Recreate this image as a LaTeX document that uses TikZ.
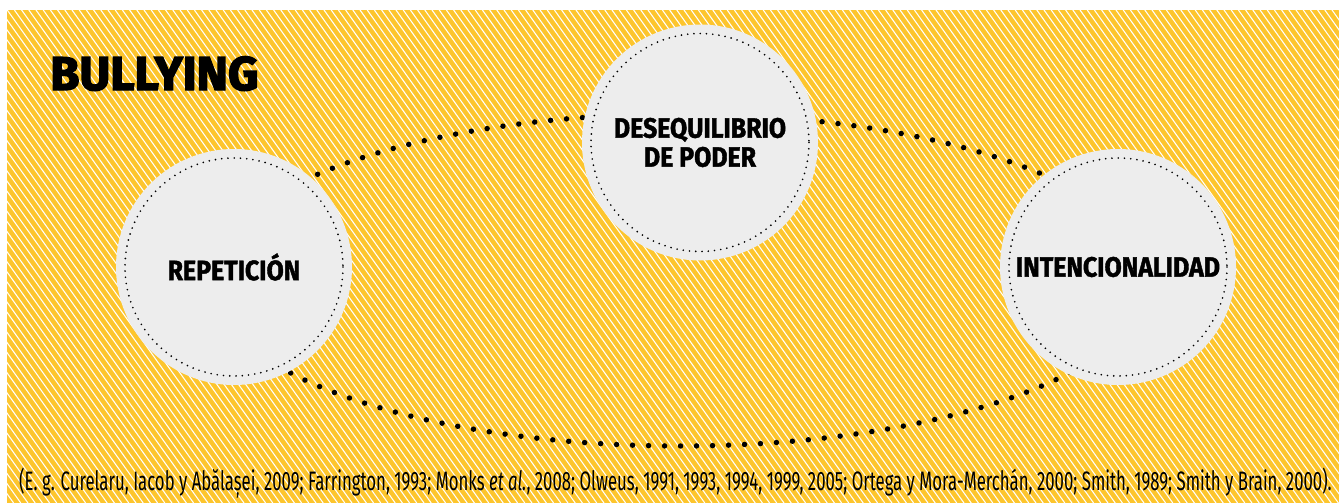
\documentclass[tikz,border=0pt]{standalone}
\usepackage{fontspec}
\setmainfont{Fira Sans}
\newfontfamily\titlefont{Fira Sans}[BoldFeatures={FakeBold=3}]
\newfontfamily\labelfont{Fira Sans}[FakeStretch=0.89,BoldFeatures={FakeBold=1.5}]
\newfontfamily\citefont{Fira Sans}[FakeStretch=0.628]
\usepackage{tikz}
\definecolor{bgyellow}{RGB}{253,197,45}
\definecolor{discgrey}{RGB}{237,237,237}
\tikzset{
    disc/.style={circle, fill=discgrey, minimum size=177pt, inner sep=0pt, align=center,
        font=\labelfont\bfseries\fontsize{21}{21.75}\selectfont},
    ringdots/.style={line width=4.1pt, line cap=round, dash pattern=on 0pt off 12pt},
    innerdots/.style={line width=1.4pt, line cap=round, dash pattern=on 0pt off 4.7pt},
    stripe/.style={white, line width=0.8pt}
}

\begin{document}
\begin{tikzpicture}[x=0.75pt,y=0.75pt,yscale=-1,xscale=1]
        \useasboundingbox (0,0) rectangle (1339,503);
        % background with white diagonal stripes
        \fill [bgyellow] (7,10) rectangle (1339,503);
        \begin{scope}
            \clip (7,10) rectangle (1339,503);
            \foreach \x in {-360,-352.8,...,1340}
                \draw [stripe] (\x,10) -- ++(352,493);
        \end{scope}
        % dotted ring behind the discs
        \coordinate (ring) at (680,280);
        \draw [ringdots] (ring) circle [x radius=470, y radius=166];
        % discs
        \node [disc] (rep) at (234,267) {REPETICIÓN};
        \node [disc] (des) at (700,142.5) {DESEQUILIBRIO\\DE PODER};
        \node [disc] (int) at (1118,267) {INTENCIONALIDAD};
        \foreach \n in {rep,des,int}
            \draw [innerdots] (\n.center) circle [radius=109];
        % title and sources
        \draw (50,90) node [anchor=base west][inner sep=0pt] (title) {\titlefont\bfseries\fontsize{35.5}{40}\selectfont BULLYING};
        \draw (675.5,490) node [anchor=base][inner sep=0pt] (refs) {\citefont\fontsize{20}{22}\selectfont (E. g. Curelaru, Iacob y Abălașei, 2009; Farrington, 1993; Monks \textit{et al.}, 2008; Olweus, 1991, 1993, 1994, 1999, 2005; Ortega y Mora-Merchán, 2000; Smith, 1989; Smith y Brain, 2000).};
\end{tikzpicture}
\end{document}
